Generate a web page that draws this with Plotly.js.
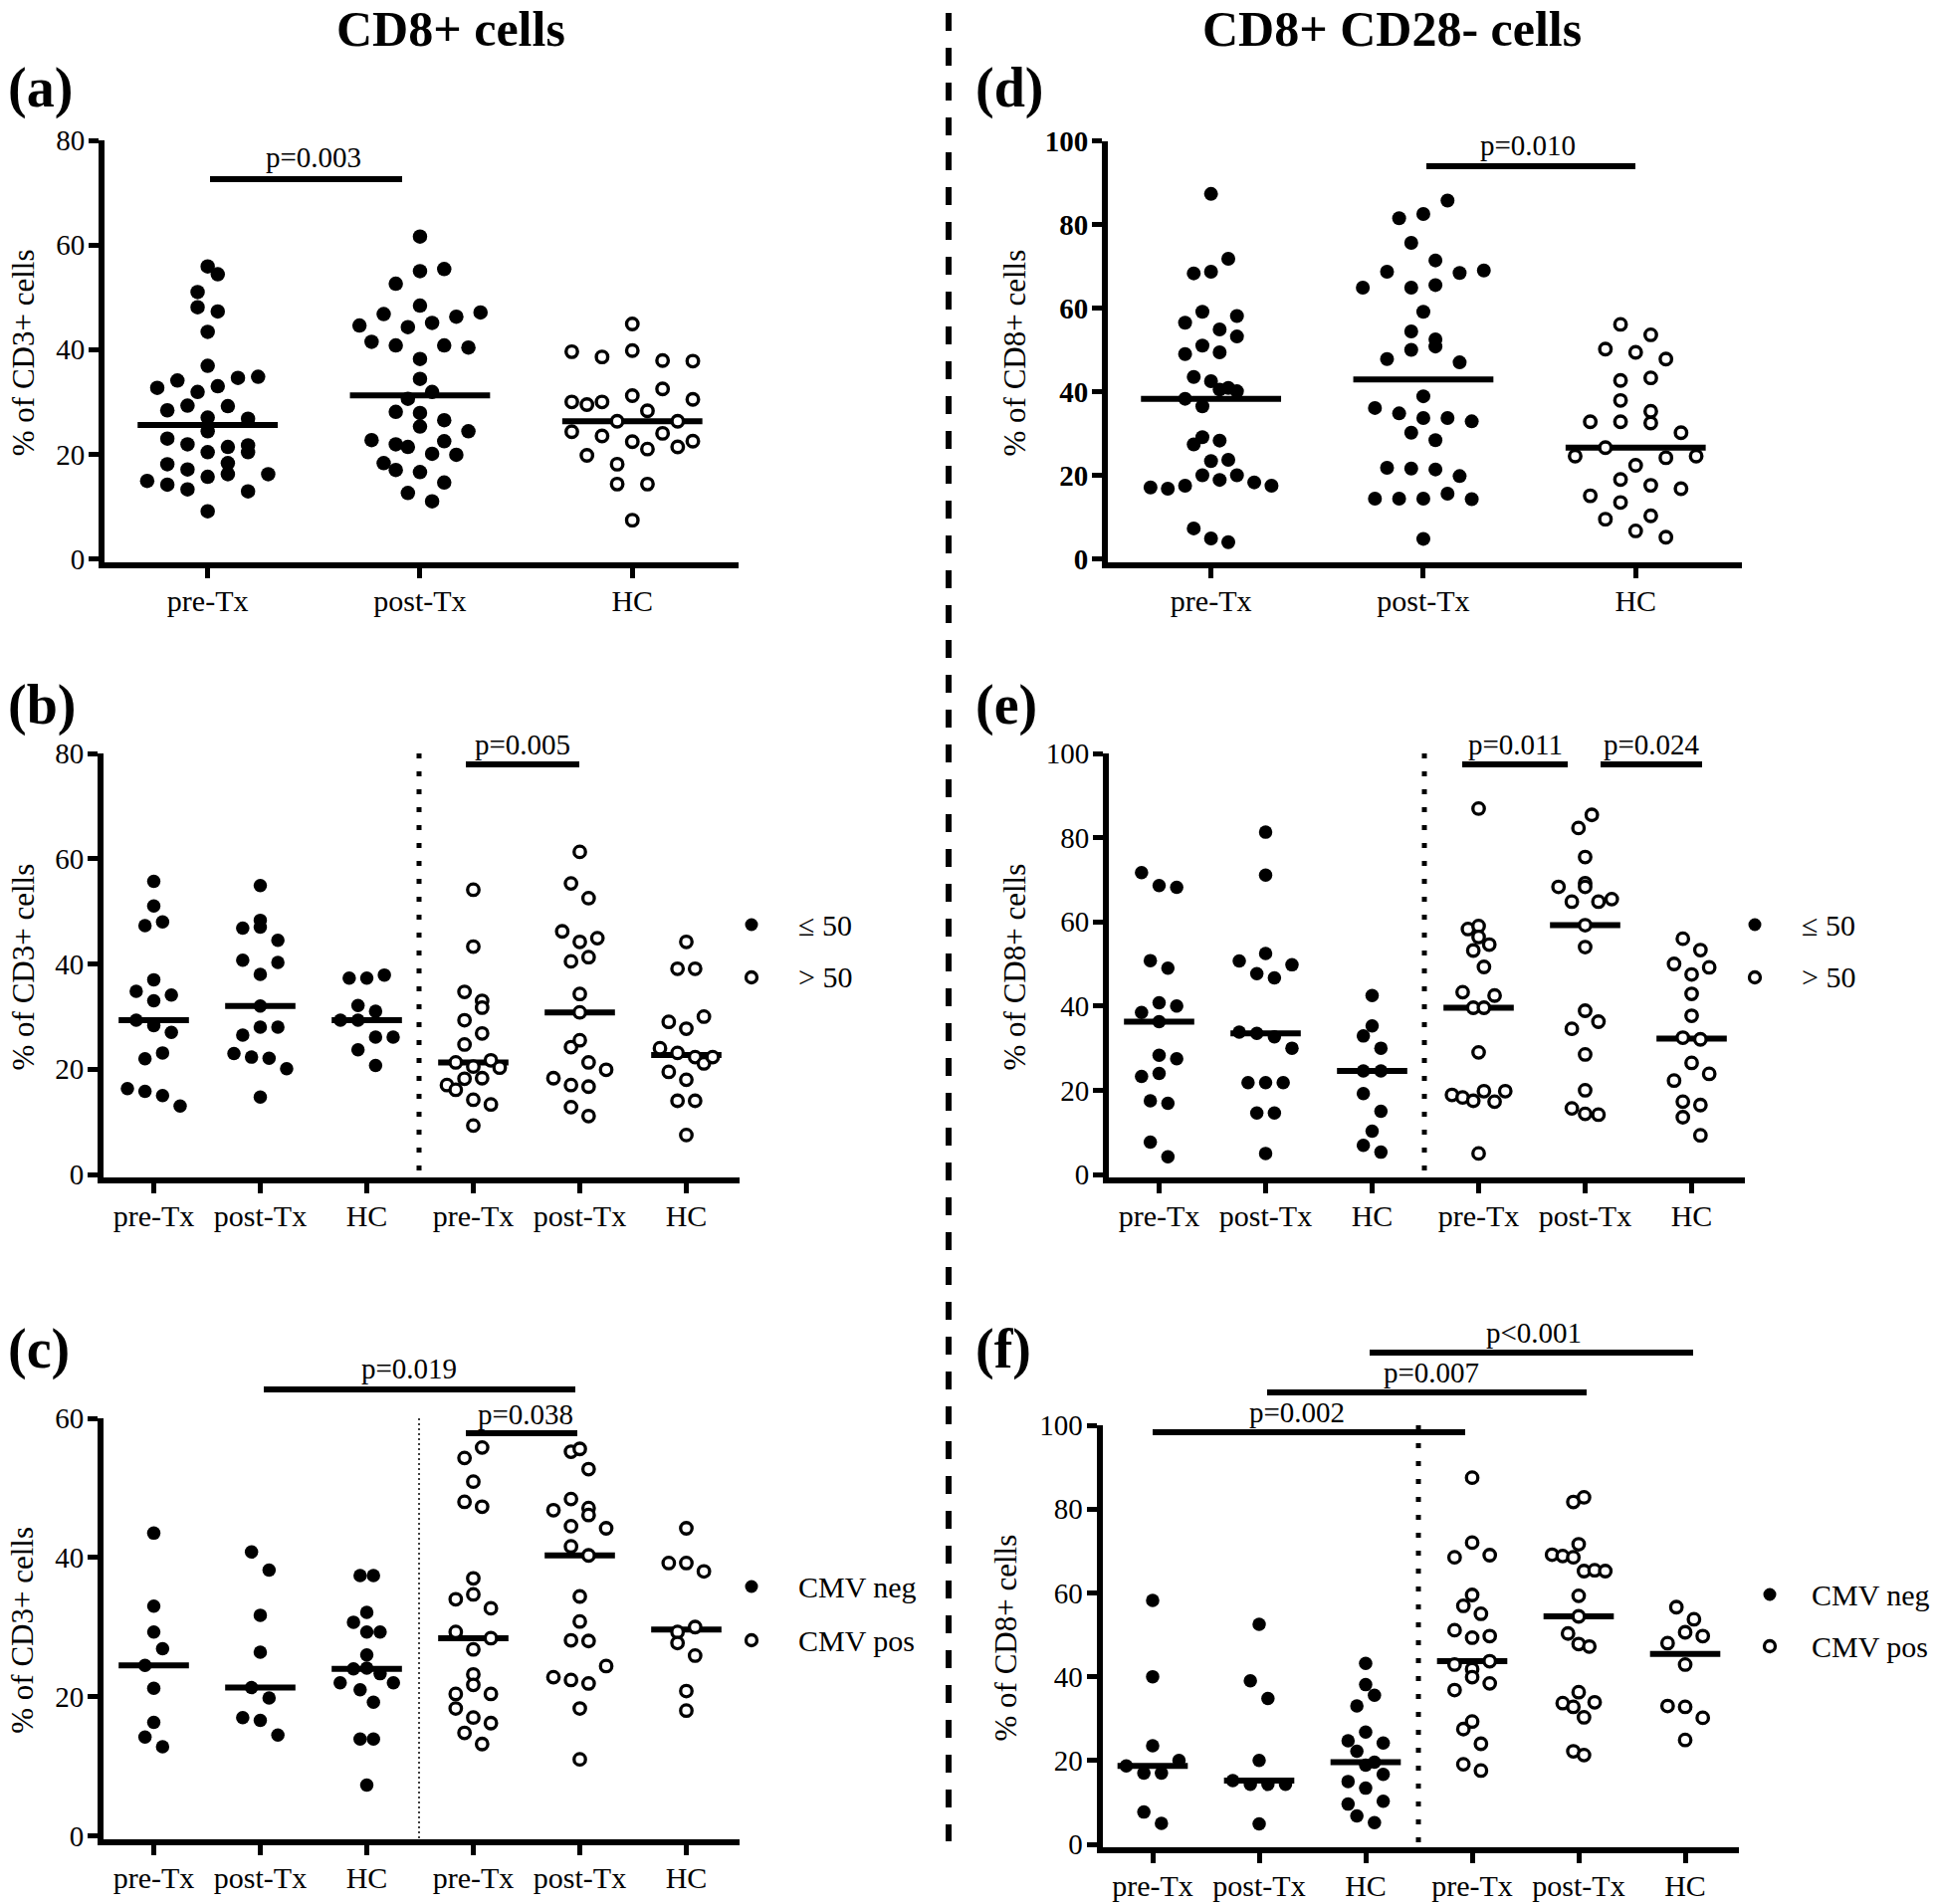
<!DOCTYPE html>
<html><head><meta charset="utf-8">
<script src="https://cdn.plot.ly/plotly-3.0.1.min.js"></script>
<style>html,body{margin:0;padding:0;background:#fff}</style>
</head><body><div id="chart" style="width:1946px;height:1913px"></div>
<script>
// ---------------- DATA (values in data-table order) ----------------
const catsShort = ['pre-Tx', 'post-Tx', 'HC'];
const catsLong = ['pre-Tx', 'post-Tx', 'HC', 'pre-Tx', 'post-Tx', 'HC'];
const yTicks80 = [0, 20, 40, 60, 80];
const yTicks60 = [0, 20, 40, 60];
const yTicks100 = [0, 20, 40, 60, 80, 100];

// (a) CD8+ cells, % of CD3+
const a_pre = [14.9,32.7,23.0,14.2,34.1,21.9,28.4,24.4,18.1,13.3,51.0,48.1,31.9,21.4,55.9,43.4,36.9,29.3,27.0,17.1,15.7,9.1,54.4,47.3,33.0,20.4,29.2,26.8,18.3,16.2,34.6,21.7,12.9,34.8,20.4,16.2];
const a_post = [44.6,41.5,46.8,28.1,22.7,18.3,52.6,40.8,17.0,44.3,30.6,27.9,21.9,21.4,12.6,61.6,55.0,48.4,38.2,34.4,16.6,45.1,31.9,25.3,22.5,20.1,11.0,55.4,40.8,14.6,46.3,26.5,24.4,19.9,40.4,47.1];
const a_hc = [39.6,30.0,24.3,29.5,19.8,38.6,30.0,23.5,26.3,18.1,14.3,44.9,39.8,31.2,22.4,7.4,28.3,21.0,14.3,37.9,32.5,24.0,26.3,21.4,37.8,30.5,22.5];

// (b) by age: <=50 / >50
const b_pre_le50 = [16.3,34.8,29.3,47.3,22.0,15.8,55.7,51.0,37.0,33.0,28.3,48.0,23.1,15.0,34.1,27.0,13.0];
const b_post_le50 = [23.0,46.8,40.7,26.5,22.3,54.9,48.3,47.0,38.0,32.0,28.0,14.7,22.1,44.5,40.3,28.0,20.1];
const b_hc_le50 = [29.3,37.3,29.3,26.1,23.7,37.3,32.1,26.1,20.7,37.9,31.0];
const b_pre_gt50 = [21.3,17.0,16.1,34.7,29.3,24.7,20.5,54.1,43.3,18.2,14.2,9.3,33.0,31.7,26.8,21.7,18.3,13.3,20.3];
const b_post_gt50 = [18.3,46.2,55.3,40.5,24.2,17.0,12.8,61.3,44.2,34.3,30.8,25.5,41.3,21.3,16.7,11.1,52.5,44.9,19.9];
const b_hc_gt50 = [24.0,29.0,19.5,39.1,23.1,14.0,44.2,27.7,18.0,7.5,39.1,22.3,14.0,30.0,21.1,22.3];

// (c) by CMV status
const c_pre_neg = [24.5,14.2,43.5,33.0,29.3,21.2,16.3,26.9,12.8];
const c_post_neg = [17.0,21.3,40.8,38.2,31.7,26.4,16.6,19.8,14.5];
const c_hc_neg = [22.0,24.0,30.7,37.4,21.0,13.9,32.1,29.3,26.0,24.1,7.3,37.4,19.2,13.9,29.3,23.3,22.0];
const c_pre_pos = [34.0,29.3,20.4,18.3,54.3,48.0,14.8,50.9,37.0,34.7,26.8,23.2,21.7,17.0,55.8,47.3,13.2,32.7,28.4,20.4,16.2];
const c_post_pos = [46.8,22.8,55.2,48.4,44.5,41.6,28.1,22.4,55.6,34.4,30.8,18.3,11.0,52.7,47.1,46.1,40.3,28.0,21.9,44.2,24.4];
const c_hc_pos = [39.2,29.3,27.7,44.2,39.2,20.8,18.0,30.0,25.9,38.0];

// (d) CD8+ CD28- cells, % of CD8+
const d_pre = [17.1,16.8,38.3,49.0,17.5,68.3,56.5,43.5,36.5,27.4,7.3,51.0,29.1,20.0,87.3,68.7,59.1,54.9,42.5,40.5,23.4,4.9,49.4,28.3,18.9,71.8,58.1,40.9,23.7,4.0,53.2,20.0,40.1,18.3,17.5];
const d_post = [64.9,36.1,14.4,68.7,47.8,21.8,81.5,34.8,14.4,75.6,64.9,54.4,50.0,30.2,21.6,82.5,59.1,38.9,33.7,14.4,4.8,71.4,65.5,52.5,50.8,28.4,21.4,85.7,33.7,15.6,68.4,47.0,19.8,32.9,14.3,69.0];
const d_hc = [32.8,24.6,15.1,50.2,9.5,56.1,42.7,32.8,26.6,22.4,19.0,13.5,49.4,37.9,6.7,53.6,43.3,32.5,30.2,24.2,17.6,10.3,47.8,5.2,35.3,24.6,16.8];

// (e) by age
const e_pre_le50 = [71.7,38.5,23.3,50.8,17.5,7.7,68.6,40.8,36.3,28.3,24.0,49.0,16.9,4.2,68.2,40.0,27.5];
const e_post_le50 = [50.7,33.8,21.8,47.7,33.5,14.6,81.3,71.1,52.5,21.8,5.0,46.7,32.7,14.6,21.8,49.8,30.0];
const e_hc_le50 = [32.9,24.6,19.2,6.9,42.5,35.3,10.3,30.0,24.6,15.0,5.3];
const e_pre_gt50 = [18.9,43.3,18.3,58.3,53.2,39.6,17.5,86.9,59.0,56.4,29.0,5.0,49.3,39.6,19.8,54.6,42.5,17.3,19.8];
const e_post_gt50 = [69.2,68.3,34.6,15.7,82.3,64.8,75.4,59.2,54.0,38.9,28.5,20.0,14.4,85.4,68.3,36.3,14.2,64.8,65.4];
const e_hc_gt50 = [50.0,56.0,32.5,22.3,17.3,13.6,47.5,42.9,37.7,26.5,53.3,32.1,23.9,16.5,9.3,49.2];

// (f) by CMV status
const f_pre_neg = [18.7,17.0,7.7,58.2,40.0,23.5,17.0,5.0,20.0];
const f_post_neg = [15.2,39.0,14.3,52.5,20.0,4.9,34.8,14.3,14.3];
const f_hc_neg = [15.0,24.7,18.9,9.6,33.0,13.4,43.2,38.1,26.8,22.2,6.8,35.6,19.6,10.3,24.2,5.2,16.7];
const f_pre_pos = [68.5,51.1,42.9,36.8,56.9,27.5,19.1,87.5,72.0,59.5,49.3,41.8,39.9,29.3,55.0,24.0,17.6,69.0,49.7,43.7,38.4];
const f_post_pos = [69.1,33.7,68.8,50.3,81.7,68.5,32.8,22.2,71.6,59.3,54.4,36.3,82.8,65.2,47.8,30.3,21.3,47.2,65.4,33.9,65.2];
const f_hc_pos = [48.0,33.0,56.6,50.6,42.9,32.8,24.9,53.7,49.7,30.2];

const pLabels = ['p=0.003','p=0.005','p=0.019','p=0.038','p=0.010','p=0.011','p=0.024','p=0.002','p=0.007','p&lt;0.001'];
const legendAge = ['≤ 50', '&gt; 50'];
const legendCMV = ['CMV neg', 'CMV pos'];

// ---------------- LAYOUT HELPERS ----------------
const W = 1946, H = 1913;
const FONT = 'Liberation Serif, Times New Roman, serif';
const LW = 6;
const px = v => v / W;
const py = v => 1 - v / H;

function median(arr) {
  const s = arr.slice().sort((a, b) => a - b);
  const m = Math.floor(s.length / 2);
  return s.length % 2 ? s[m] : (s[m - 1] + s[m]) / 2;
}

// Prism-like scatter layout: values grouped into horizontal rows (greedy, ascending),
// each row centred, points in data order, spacing limited by the group width.
function rowOffsets(vals, pyPerY, rowPx, sMax, maxSpan) {
  const idx = vals.map((v, i) => i).sort((a, b) => (vals[a] - vals[b]) || (a - b));
  const rows = [];
  let cur = null;
  for (const i of idx) {
    if (!cur || (vals[i] - cur.start) * pyPerY > rowPx) { cur = { start: vals[i], items: [] }; rows.push(cur); }
    cur.items.push(i);
  }
  const nMax = Math.max(...rows.map(r => r.items.length));
  const s = nMax > 1 ? Math.min(sMax, maxSpan / (nMax - 1)) : sMax;
  const off = new Array(vals.length).fill(0);
  rows.forEach(r => {
    const items = r.items.slice().sort((a, b) => a - b);
    items.forEach((i, j) => { off[i] = (j - (items.length - 1) / 2) * s; });
  });
  return off;
}

const panels = [
  { label: '(a)', ytitle: '% of CD3+ cells', cats: catsShort, yticks: yTicks80, ymax: 80,
    lineX: 102, lineY: 567.5, sp: 213.3, yTop: 141, msF: 14.5, msO: 11.5, lwO: 3.4,
    labelPos: [6, 89], ytitleX: 23, bold: false,
    groups: [[a_pre, 'fill'], [a_post, 'fill'], [a_hc, 'open']] },
  { label: '(b)', ytitle: '% of CD3+ cells', cats: catsLong, yticks: yTicks80, ymax: 80,
    lineX: 101, lineY: 1186, sp: 107, yTop: 757, msF: 13.5, msO: 11.5, lwO: 3.3,
    labelPos: [6, 708], ytitleX: 23, bold: false,
    groups: [[b_pre_le50, 'fill'], [b_post_le50, 'fill'], [b_hc_le50, 'fill'], [b_pre_gt50, 'open'], [b_post_gt50, 'open'], [b_hc_gt50, 'open']],
    divider: { x: 421, y0: 757, y1: 1186, thin: false },
    legend: { x: 755, tx: 800, y: [929, 982], texts: legendAge } },
  { label: '(c)', ytitle: '% of CD3+ cells', cats: catsLong, yticks: yTicks60, ymax: 60,
    lineX: 101, lineY: 1850.5, sp: 107, yTop: 1425, msF: 13.5, msO: 11.5, lwO: 3.3,
    labelPos: [6, 1355], ytitleX: 23, bold: false,
    groups: [[c_pre_neg, 'fill'], [c_post_neg, 'fill'], [c_hc_neg, 'fill'], [c_pre_pos, 'open'], [c_post_pos, 'open'], [c_hc_pos, 'open']],
    divider: { x: 421, y0: 1425, y1: 1850, thin: true },
    legend: { x: 755, tx: 800, y: [1594, 1648], texts: legendCMV } },
  { label: '(d)', ytitle: '% of CD8+ cells', cats: catsShort, yticks: yTicks100, ymax: 100,
    lineX: 1110, lineY: 567.5, sp: 213.3, yTop: 141.5, msF: 14, msO: 11.5, lwO: 3.4,
    labelPos: [978, 89], ytitleX: 1019, bold: true,
    groups: [[d_pre, 'fill'], [d_post, 'fill'], [d_hc, 'open']] },
  { label: '(e)', ytitle: '% of CD8+ cells', cats: catsLong, yticks: yTicks100, ymax: 100,
    lineX: 1111, lineY: 1186, sp: 107, yTop: 757, msF: 13.5, msO: 11.5, lwO: 3.3,
    labelPos: [978, 708], ytitleX: 1019, bold: false,
    groups: [[e_pre_le50, 'fill'], [e_post_le50, 'fill'], [e_hc_le50, 'fill'], [e_pre_gt50, 'open'], [e_post_gt50, 'open'], [e_hc_gt50, 'open']],
    divider: { x: 1431, y0: 757, y1: 1186, thin: false },
    legend: { x: 1763, tx: 1808, y: [929, 982], texts: legendAge } },
  { label: '(f)', ytitle: '% of CD8+ cells', cats: catsLong, yticks: yTicks100, ymax: 100,
    lineX: 1104.5, lineY: 1859, sp: 107, yTop: 1432, msF: 13.5, msO: 11.5, lwO: 3.3,
    labelPos: [978, 1355], ytitleX: 1010, bold: false,
    groups: [[f_pre_neg, 'fill'], [f_post_neg, 'fill'], [f_hc_neg, 'fill'], [f_pre_pos, 'open'], [f_post_pos, 'open'], [f_hc_pos, 'open']],
    divider: { x: 1425, y0: 1432, y1: 1859, thin: false },
    legend: { x: 1778, tx: 1818, y: [1602, 1654], texts: legendCMV } }
];

// significance bars: [x0, x1, y, textX, textY] in px; texts from pLabels
const sigs = [
  [211, 404, 180, 315, 158],
  [468, 582, 768, 525, 748],
  [265, 578, 1396, 411, 1375],
  [468, 580, 1440, 528, 1421],
  [1433, 1643, 167, 1535, 146],
  [1469, 1575, 768, 1522, 748],
  [1608, 1710, 768, 1659, 748],
  [1158, 1472, 1439, 1303, 1419],
  [1273, 1594, 1399, 1438, 1379],
  [1376, 1701, 1359, 1541, 1339]
];

const traces = [];
const layout = {
  width: W, height: H,
  margin: { l: 0, r: 0, t: 0, b: 0 },
  paper_bgcolor: '#ffffff', plot_bgcolor: 'rgba(0,0,0,0)',
  showlegend: false, hovermode: false,
  font: { family: FONT, color: '#000' },
  shapes: [], annotations: []
};

panels.forEach((p, idx) => {
  const n = idx + 1;
  const sfx = n > 1 ? String(n) : '';
  const ncat = p.cats.length;
  const l = p.lineX + LW / 2, r = p.lineX + ncat * p.sp;
  const bottom = p.lineY - LW / 2;
  const pyPerY = (p.lineY - p.yTop) / p.ymax;

  layout['xaxis' + sfx] = {
    domain: [px(l), px(r)], range: [-0.5 + (LW / 2) / p.sp, ncat - 0.5], anchor: 'y' + sfx,
    tickvals: p.cats.map((c, i) => i), ticktext: p.cats,
    showline: true, linewidth: LW, linecolor: '#000',
    ticks: 'outside', ticklen: 10, tickwidth: 5, tickcolor: '#000', ticklabelstandoff: -3,
    showgrid: false, zeroline: false, fixedrange: true,
    tickfont: { family: FONT, size: 30, color: '#000' }
  };
  layout['yaxis' + sfx] = {
    domain: [py(bottom), py(p.yTop)], range: [-(LW / 2) / pyPerY, p.ymax], anchor: 'x' + sfx,
    tickvals: p.yticks, ticktext: p.yticks.map(String),
    showline: true, linewidth: LW, linecolor: '#000',
    ticks: 'outside', ticklen: 10, tickwidth: 5, tickcolor: '#000', ticklabelstandoff: -2,
    showgrid: false, zeroline: false, fixedrange: true,
    tickfont: { family: FONT, size: 29, color: '#000', weight: p.bold ? 'bold' : 'normal' }
  };

  const sMax = (ncat === 3 ? 0.17 : 0.165) * p.sp;
  const maxSpan = (ncat === 3 ? 0.57 : 0.5) * p.sp;
  p.groups.forEach((g, k) => {
    const vals = g[0];
    const open = g[1] === 'open';
    const m = median(vals);
    traces.push({
      type: 'scatter', mode: 'lines', xaxis: 'x' + sfx, yaxis: 'y' + sfx,
      x: [k - 0.33, k + 0.33], y: [m, m],
      line: { color: '#000', width: 6 }, cliponaxis: false
    });
    const off = rowOffsets(vals, pyPerY, 18.5, sMax, maxSpan);
    traces.push({
      type: 'scatter', mode: 'markers', xaxis: 'x' + sfx, yaxis: 'y' + sfx,
      x: vals.map((v, j) => k + off[j] / p.sp), y: vals, cliponaxis: false,
      marker: open ? { symbol: 'circle', size: p.msO, color: '#fff', line: { color: '#000', width: p.lwO } }
                   : { symbol: 'circle', size: p.msF, color: '#000', line: { width: 0 } }
    });
  });

  layout.annotations.push({
    xref: 'paper', yref: 'paper', x: px(p.labelPos[0]), y: py(p.labelPos[1]),
    xanchor: 'left', yanchor: 'middle', showarrow: false, text: '<b>' + p.label + '</b>',
    font: { family: FONT, size: 56, color: '#000' }
  });
  layout.annotations.push({
    xref: 'paper', yref: 'paper', x: px(p.ytitleX), y: py((p.yTop + p.lineY) / 2),
    xanchor: 'center', yanchor: 'middle', showarrow: false, textangle: -90, text: p.ytitle,
    font: { family: FONT, size: 31, color: '#000' }
  });
  if (p.divider) {
    const d = p.divider;
    layout.shapes.push({
      type: 'line', xref: 'paper', yref: 'paper', x0: px(d.x), x1: px(d.x), y0: py(d.y0), y1: py(d.y1),
      line: d.thin ? { color: '#000', width: 1.5, dash: '2px,3px' } : { color: '#000', width: 5, dash: '5px,13px' }
    });
  }
  if (p.legend) {
    const L = p.legend;
    L.y.forEach((yy, j) => {
      const rad = j === 0 ? 6.5 : 5.5;
      layout.shapes.push({
        type: 'circle', xref: 'paper', yref: 'paper',
        x0: px(L.x - rad), x1: px(L.x + rad), y0: py(yy + rad), y1: py(yy - rad),
        fillcolor: j === 0 ? '#000' : '#fff',
        line: { color: '#000', width: j === 0 ? 0 : 3.3 }
      });
      layout.annotations.push({
        xref: 'paper', yref: 'paper', x: px(L.tx), y: py(yy),
        xanchor: 'left', yanchor: 'middle', showarrow: false, text: L.texts[j],
        font: { family: FONT, size: 30, color: '#000' }
      });
    });
  }
});

sigs.forEach((s, i) => {
  layout.shapes.push({
    type: 'line', xref: 'paper', yref: 'paper', x0: px(s[0]), x1: px(s[1]), y0: py(s[2]), y1: py(s[2]),
    line: { color: '#000', width: 6 }
  });
  layout.annotations.push({
    xref: 'paper', yref: 'paper', x: px(s[3]), y: py(s[4]),
    xanchor: 'center', yanchor: 'middle', showarrow: false, text: pLabels[i],
    font: { family: FONT, size: 29, color: '#000' }
  });
});

layout.annotations.push({
  xref: 'paper', yref: 'paper', x: px(453), y: 1, xanchor: 'center', yanchor: 'top', borderpad: 0,
  showarrow: false, text: '<b>CD8+ cells</b>', font: { family: FONT, size: 50, color: '#000' }
});
layout.annotations.push({
  xref: 'paper', yref: 'paper', x: px(1398), y: 1, xanchor: 'center', yanchor: 'top', borderpad: 0,
  showarrow: false, text: '<b>CD8+ CD28- cells</b>', font: { family: FONT, size: 50, color: '#000' }
});

layout.shapes.push({
  type: 'line', xref: 'paper', yref: 'paper', x0: px(953), x1: px(953), y0: py(13), y1: py(1850),
  line: { color: '#000', width: 6, dash: '18px,17px' }
});

Plotly.newPlot('chart', traces, layout, { staticPlot: true, displayModeBar: false });
</script>
</body></html>
